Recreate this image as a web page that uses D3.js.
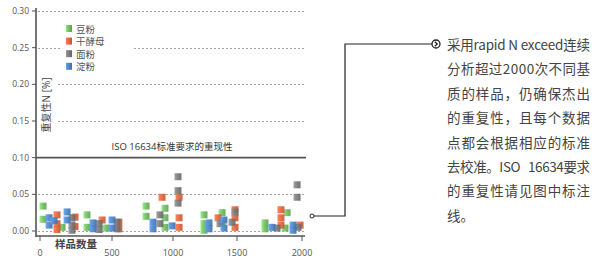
<!DOCTYPE html>
<html>
<head>
<meta charset="utf-8">
<script src="https://cdn.jsdelivr.net/npm/d3@7"></script>
<style>
  body { margin: 0; background: #fff; }
  svg { display: block; font-family: "Open Sans", "Noto Sans CJK SC", sans-serif; }
</style>
</head>
<body>
<div class="chart"></div>
<script>
// series names (legend order)
var seriesNames = ["豆粉", "干酵母", "面粉", "淀粉"];
var seriesColors = ["#72c063", "#e8653d", "#7b7b7b", "#4c86c9"];

// [sample count, repeatability %]
var soyPoints = [
  [21, 0.034], [21, 0.016], [153, 0.005], [326, 0.022], [326, 0.005], [458, 0.004],
  [779, 0.034], [779, 0.020], [934, 0.031], [934, 0.018], [934, 0.005],
  [1242, 0.022], [1242, 0.010], [1242, 0.001], [1383, 0.025], [1383, 0.012],
  [1715, 0.011], [1715, 0.003], [1885, 0.025], [1869, 0.004]
];
var yeastPoints = [
  [118, 0.022], [118, 0.010], [118, 0.002], [243, 0.019], [243, 0.006], [431, 0.015],
  [556, 0.012], [556, 0.003], [910, 0.046], [1047, 0.046], [1047, 0.018], [1047, 0.005],
  [1352, 0.018], [1484, 0.029], [1484, 0.018], [1484, 0.005],
  [1838, 0.029], [1838, 0.018], [1838, 0.008], [1985, 0.008]
];
var flourPoints = [
  [222, 0.018], [222, 0.008], [222, 0.001], [410, 0.010], [410, 0.002], [541, 0.012], [541, 0.003],
  [893, 0.022], [893, 0.010], [1039, 0.074], [1039, 0.055], [1039, 0.038],
  [1367, 0.010], [1461, 0.012], [1484, 0.026], [1808, 0.004],
  [1962, 0.063], [1962, 0.046], [1969, 0.005]
];
var starchPoints = [
  [63, 0.018], [63, 0.008], [97, 0.014], [188, 0.026], [188, 0.015], [368, 0.011], [368, 0.003],
  [500, 0.015], [500, 0.004], [836, 0.012], [836, 0.003], [992, 0.007],
  [1281, 0.011], [1281, 0.003], [1398, 0.015], [1398, 0.004],
  [1769, 0.005], [1931, 0.008], [1931, 0.001]
];

var xTicks = [0, 500, 1000, 1500, 2000];
var yTicks = [0, 0.05, 0.10, 0.15, 0.20, 0.25, 0.30];
var isoLimit = 0.10;

var noteLines = [
  "采用rapid N exceed连续",
  "分析超过2000次不同基",
  "质的样品，仍确保杰出",
  "的重复性，且每个数据",
  "点都会根据相应的标准",
  "去校准。ISO\u00a0\u00a0\u00a016634要求",
  "的重复性请见图中标注",
  "线。"
];

var width = 600, height = 259;

var svg = d3.select(".chart").append("svg")
  .attr("width", width)
  .attr("height", height);

// the printed axis is slightly uneven, so map tick by tick
var x = d3.scaleLinear().domain(xTicks).range([40, 112, 173, 237, 302]);
var y = d3.scaleLinear().domain([0, 0.30]).range([231, 11]);

// gradients for the cylinder-like markers
var defs = svg.append("defs");
seriesColors.forEach(function (c, i) {
  var g = defs.append("linearGradient")
    .attr("id", "grad" + i)
    .attr("x1", "0%").attr("x2", "100%").attr("y1", "0%").attr("y2", "0%");
  var base = d3.color(c);
  g.append("stop").attr("offset", "0%").attr("stop-color", base.brighter(0.6));
  g.append("stop").attr("offset", "45%").attr("stop-color", base);
  g.append("stop").attr("offset", "100%").attr("stop-color", base.darker(0.5));
});

// grid lines
svg.append("g")
  .selectAll("line")
  .data(yTicks.filter(function (d) { return d !== isoLimit; }))
  .enter()
  .append("line")
  .attr("x1", 38)
  .attr("x2", 306)
  .attr("y1", function (d) { return Math.round(y(d)) + 0.5; })
  .attr("y2", function (d) { return Math.round(y(d)) + 0.5; })
  .style("stroke", "#8a8a8a")
  .style("stroke-width", 0.8)
  .style("stroke-dasharray", "2,2");

// ISO limit line
svg.append("line")
  .attr("x1", 36).attr("x2", 306)
  .attr("y1", y(isoLimit)).attr("y2", y(isoLimit))
  .style("stroke", "#555")
  .style("stroke-width", 1.6);

svg.append("text")
  .attr("x", 172)
  .attr("y", y(isoLimit) - 8)
  .attr("text-anchor", "middle")
  .style("font-size", "9.5px")
  .style("fill", "#333")
  .text("ISO 16634标准要求的重现性");

// markers
var allSeries = [soyPoints, yeastPoints, flourPoints, starchPoints];
var ms = 7;
allSeries.forEach(function (pts, i) {
  svg.append("g")
    .selectAll("rect")
    .data(pts)
    .enter()
    .append("rect")
    .attr("x", function (d) { return x(d[0]) - ms / 2; })
    .attr("y", function (d) { return y(d[1]) - ms / 2; })
    .attr("width", ms)
    .attr("height", ms)
    .style("fill", "url(#grad" + i + ")")
    .style("opacity", 0.92);
});

// axes
var yAxis = svg.append("g");
yAxis.append("line")
  .attr("x1", 36).attr("x2", 36).attr("y1", 8).attr("y2", 237)
  .style("stroke", "#555").style("stroke-width", 1.6);
yAxis.selectAll(".tick")
  .data(yTicks)
  .enter()
  .append("line")
  .attr("x1", 32).attr("x2", 36)
  .attr("y1", function (d) { return y(d); })
  .attr("y2", function (d) { return y(d); })
  .style("stroke", "#555");
yAxis.selectAll("text")
  .data(yTicks)
  .enter()
  .append("text")
  .attr("x", 29)
  .attr("y", function (d) { return y(d) + 3; })
  .attr("text-anchor", "end")
  .style("font-size", "8.5px")
  .style("fill", "#555")
  .text(function (d) { return d3.format(".2f")(d); });

var xAxis = svg.append("g");
xAxis.append("line")
  .attr("x1", 36).attr("x2", 305).attr("y1", 236).attr("y2", 236)
  .style("stroke", "#555").style("stroke-width", 1.6);
xAxis.selectAll(".tick")
  .data(xTicks)
  .enter()
  .append("line")
  .attr("x1", function (d) { return x(d); })
  .attr("x2", function (d) { return x(d); })
  .attr("y1", 236).attr("y2", 241)
  .style("stroke", "#555");
xAxis.selectAll("text")
  .data(xTicks)
  .enter()
  .append("text")
  .attr("x", function (d) { return x(d); })
  .attr("y", 256)
  .attr("text-anchor", "middle")
  .style("font-size", "9px")
  .style("fill", "#555")
  .text(function (d) { return d; });

svg.append("text")
  .attr("x", 55)
  .attr("y", 248)
  .style("font-size", "10.5px")
  .style("font-weight", "bold")
  .style("fill", "#444")
  .text("样品数量");

// y label with white background
svg.append("rect")
  .attr("x", 38).attr("y", 74).attr("width", 20).attr("height", 62)
  .style("fill", "#fff");
svg.append("text")
  .attr("transform", "translate(50,105) rotate(-90)")
  .attr("text-anchor", "middle")
  .style("font-size", "10px")
  .style("fill", "#444")
  .text("重复性N [%]");

// legend
var legend = svg.append("g").attr("transform", "translate(66,22)");
legend.append("rect")
  .attr("x", -6).attr("y", -2).attr("width", 74).attr("height", 50)
  .style("fill", "#fff");
var li = legend.selectAll(".item")
  .data(seriesNames)
  .enter()
  .append("g")
  .attr("transform", function (d, i) { return "translate(0," + i * 12.6 + ")"; });
li.append("rect")
  .attr("x", 0).attr("y", 3).attr("width", 6).attr("height", 7)
  .style("fill", function (d, i) { return "url(#grad" + i + ")"; });
li.append("text")
  .attr("x", 10).attr("y", 10.5)
  .style("font-size", "9.5px")
  .style("fill", "#555")
  .text(function (d) { return d; });

// connector to the note
svg.append("path")
  .attr("d", "M314,216H345V44H432")
  .style("fill", "none")
  .style("stroke", "#222")
  .style("stroke-width", 1.2);
svg.append("circle")
  .attr("cx", 312).attr("cy", 216).attr("r", 2)
  .style("fill", "#fff").style("stroke", "#222").style("stroke-width", 1);
svg.append("circle")
  .attr("cx", 436).attr("cy", 44).attr("r", 4)
  .style("fill", "#fff").style("stroke", "#222").style("stroke-width", 1.3);
svg.append("path")
  .attr("d", "M434.8,41.8L437.2,44L434.8,46.2")
  .style("fill", "none").style("stroke", "#222").style("stroke-width", 1.3);

// note text
svg.append("g")
  .selectAll("text")
  .data(noteLines)
  .enter()
  .append("text")
  .attr("x", 447)
  .attr("y", function (d, i) { return 50 + i * 24.4; })
  .attr("textLength", function (d, i) { return i < noteLines.length - 1 ? 143 : null; })
  .attr("lengthAdjust", "spacing")
  .style("font-family", "'Noto Sans CJK SC', sans-serif")
  .style("font-size", "13.5px")
  .style("fill", "#444")
  .text(function (d) { return d; });
</script>
</body>
</html>
